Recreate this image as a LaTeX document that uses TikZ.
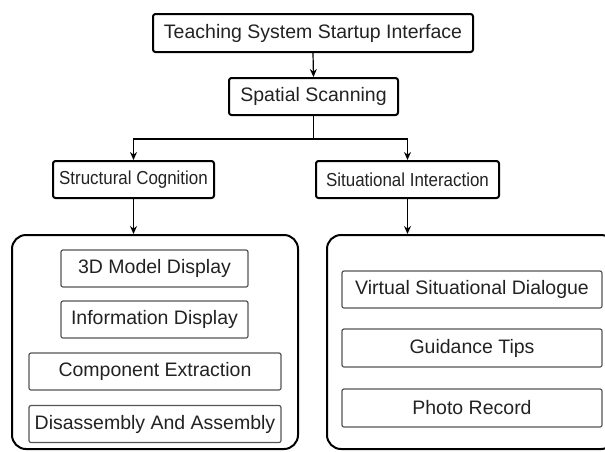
\documentclass[tikz,border=0pt]{standalone}
\usepackage{fontspec}
\setmainfont{Liberation Sans}
\newfontfamily\condensed[FakeStretch=0.9]{Liberation Sans}
\usetikzlibrary{arrows.meta}
\definecolor{ink}{HTML}{222222}
\definecolor{frame}{HTML}{555555}
\begin{document}
\begin{tikzpicture}[x=1pt,y=-1pt,
  topbox/.style={draw=black,line width=2pt,rounded corners=2.5pt,text=ink,
    font=\fontsize{19.5}{22}\selectfont,inner sep=0pt},
  midbox/.style={draw=black,line width=2pt,rounded corners=2.5pt,text=ink,
    font=\condensed\fontsize{18.8}{22}\selectfont,inner sep=0pt},
  container/.style={draw=black,line width=2pt,rounded corners=14pt,inner sep=0pt},
  itembox/.style={draw=frame,line width=1.2pt,rounded corners=2pt,text=ink,
    font=\fontsize{19.5}{22}\selectfont,inner sep=0pt},
  link/.style={draw=black,line width=1.2pt},
  arrow/.style={link,-{Stealth[length=8pt,width=7pt]}}]
\useasboundingbox (0,0) rectangle (605,451);
\clip (0,0) rectangle (605,451);

% top of the flow
\node[topbox,minimum width=320,minimum height=38] (start) at (313,33) {Teaching System Startup Interface};
\node[topbox,minimum width=169,minimum height=37] (scan) at (313.5,96.5) {Spatial Scanning};

% two branches
\node[midbox,minimum width=161,minimum height=37] (struct) at (133.5,179.5) {Structural Cognition};
\node[midbox,minimum width=183,minimum height=37] (situ) at (407.5,179.5) {Situational Interaction};

% grouping frames
\node[container,minimum width=286,minimum height=214] (left) at (155,342) {};
\node[container,minimum width=288,minimum height=214] (right) at (471,342) {};

% items of the structural branch
\node[itembox,minimum width=187,minimum height=37] (model) at (154.5,268.5) {3D Model Display};
\node[itembox,minimum width=187,minimum height=37] (info) at (154.5,319.5) {Information Display};
\node[itembox,minimum width=252,minimum height=37] (comp) at (155,371.5) {Component Extraction};
\node[itembox,minimum width=252,minimum height=37] (dis) at (155,424) {Disassembly And Assembly};

% items of the situational branch
\node[itembox,minimum width=260,minimum height=37] (dialog) at (472,289.5) {Virtual Situational Dialogue};
\node[itembox,minimum width=260,minimum height=38] (tips) at (472,348) {Guidance Tips};
\node[itembox,minimum width=260,minimum height=38] (photo) at (472,408) {Photo Record};

% connectors
\coordinate (split) at (313.5,139);
\draw[arrow] (start.south) -- (scan.north);
\draw[link] (scan.south) -- (split);
\draw[arrow] (split) -| (struct.north);
\draw[arrow] (split) -| (situ.north);
\draw[arrow] (struct.south) -- (struct.south |- left.north);
\draw[arrow] (situ.south) -- (situ.south |- right.north);
\end{tikzpicture}
\end{document}
